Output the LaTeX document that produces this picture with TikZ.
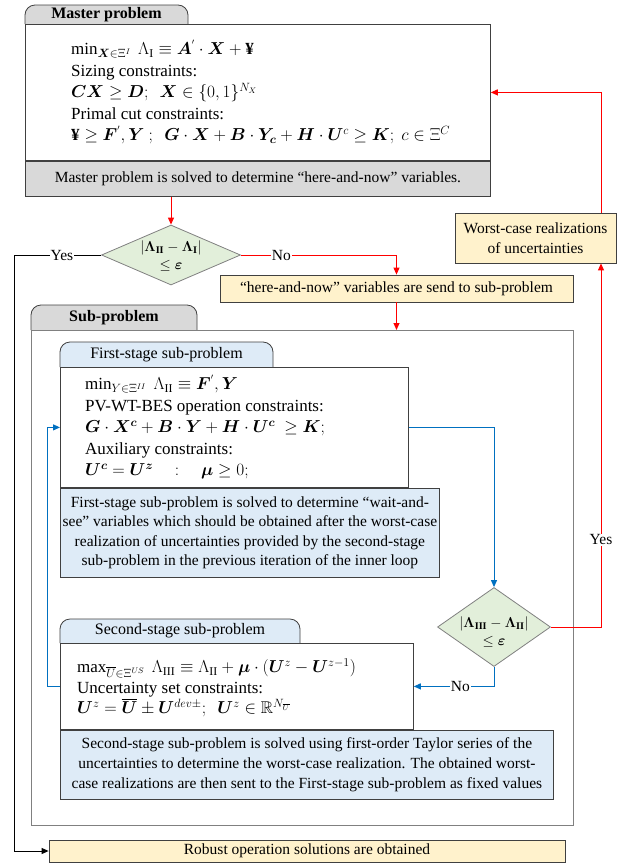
\documentclass[tikz,border=0pt]{standalone}
\usepackage{amsmath,amssymb,bm}
\usepackage{fontspec}
\setmainfont{Liberation Serif}
\usetikzlibrary{arrows.meta, positioning, shapes.geometric}
\definecolor{grisclair}{HTML}{D9D9D9}
\definecolor{bord}{HTML}{404040}
\definecolor{gris}{HTML}{808080}
\definecolor{vertpale}{HTML}{E2EFDA}
\definecolor{jaune}{HTML}{FFF2CC}
\definecolor{bleupale}{HTML}{DEEBF7}
\definecolor{bleu}{HTML}{0070C0}
\definecolor{rouge}{HTML}{FF0000}

\begin{document}
\begin{tikzpicture}[x=1pt, y=-1pt,
    font=\fontsize{15.5}{18}\selectfont,
    boite/.style={draw=bord, fill=white, line width=0.8pt, inner sep=0pt},
    bande/.style={draw=bord, line width=0.8pt, inner sep=0pt, align=center},
    onglet/.style={draw=bord, line width=0.8pt, rounded corners=10pt},
    titre/.style={font=\fontsize{16}{18}\selectfont},
    losange/.style={diamond, draw=gris, fill=vertpale, line width=0.8pt, inner sep=0pt},
    formules/.style={anchor=west, align=left, inner sep=0pt, font=\fontsize{17}{21.5}\selectfont},
    note/.style={font=\fontsize{15.5}{19.6}\selectfont},
    etiq/.style={fill=white, text=black, inner sep=1pt},
    fleche/.style={line width=1pt, -{Triangle[length=7pt,width=6pt]}}]
    \useasboundingbox (0,0) rectangle (618,865);

    % master problem
    \filldraw[onglet, fill=grisclair] (25,24) -- (25,5) -- (188,5) -- (188,24);
    \node[titre, font=\fontsize{16}{18}\selectfont\bfseries] (mastertab) at (106.5,14.5) {Master problem};
    \node[boite, anchor=north west, minimum width=465, minimum height=136] (master) at (25,24) {};
    \node[bande, fill=grisclair, anchor=north west, minimum width=465, minimum height=35, font=\fontsize{15.5}{18}\selectfont] (mastersolve) at (master.south west)
      {Master problem is solved to determine “here-and-now” variables.};
    \node[formules] (mastertxt) at (71,92) {%
      $\min_{\bm{X}\in\Xi^{I}}\ \Lambda_{\mathrm{I}}\equiv\bm{A}^{'}\cdot\bm{X}+\text{\textbf{¥}}$\\
      Sizing constraints:\\
      $\bm{CX}\ge\bm{D};\ \ \bm{X}\in\{0,1\}^{N_X}$\\
      Primal cut constraints:\\
      $\text{\textbf{¥}}\ge\bm{F}^{'},\bm{Y}\ ;\ \ \bm{G}\cdot\bm{X}+\bm{B}\cdot\bm{Y_c}+\bm{H}\cdot\bm{U}^{c}\ge\bm{K};\ c\in\Xi^{C}$};

    % first test
    \node[losange, minimum width=139, minimum height=60] (test1) at (171,255) {};
    \node[align=center, font=\fontsize{14.5}{18}\selectfont] (test1txt) at (171,256) {$|\bm{\Lambda}_{\mathbf{II}}-\bm{\Lambda}_{\mathbf{I}}|$\\$\le\bm{\varepsilon}$};
    \node[bande, fill=jaune, minimum width=353, minimum height=27] (sendsub) at (396.5,288.5)
      {“here-and-now” variables are send to sub-problem};
    \node[bande, fill=jaune, minimum width=161, minimum height=50, font=\fontsize{15.5}{20}\selectfont] (worstcase) at (535.5,238)
      {Worst-case realizations\\of uncertainties};

    % sub-problem
    \filldraw[onglet, fill=grisclair] (31,330) -- (31,305) -- (197,305) -- (197,330);
    \node[font=\fontsize{16}{18}\selectfont\bfseries] (subtab) at (114,318) {Sub-problem};
    \node[boite, draw=gris, anchor=north west, minimum width=542, minimum height=495] (subbox) at (31,330) {};

    % first stage
    \filldraw[onglet, fill=bleupale] (60,367) -- (60,342) -- (273,342) -- (273,367);
    \node[titre] (firsttab) at (166.5,355) {First-stage sub-problem};
    \node[boite, anchor=north west, minimum width=348, minimum height=120] (first) at (60,367) {};
    \node[formules] (firsttxt) at (85,427) {%
      $\min_{Y\in\Xi^{II}}\ \Lambda_{\mathrm{II}}\equiv\bm{F}^{'},\bm{Y}$\\
      PV-WT-BES operation constraints:\\
      $\bm{G}\cdot\bm{X^c}+\bm{B}\cdot\bm{Y}+\bm{H}\cdot\bm{U^c}\ \ge\bm{K};$\\
      Auxiliary constraints:\\
      $\bm{U^c}=\bm{U^z}\quad:\quad\bm{\mu}\ge0;$};
    \node[bande, note, fill=bleupale, anchor=north west, minimum width=379, minimum height=89] (firstnote) at (first.south west)
      {First-stage sub-problem is solved to determine “wait-and-\\see” variables which should be obtained after the worst-case\\realization of uncertainties provided by the second-stage\\sub-problem in the previous iteration of the inner loop};

    % second test
    \node[losange, minimum width=113, minimum height=79] (test2) at (494,627) {};
    \node[align=center, font=\fontsize{14.5}{18}\selectfont] (test2txt) at (494,632) {$|\bm{\Lambda}_{\mathbf{III}}-\bm{\Lambda}_{\mathbf{II}}|$\\$\le\bm{\varepsilon}$};

    % second stage
    \filldraw[onglet, fill=bleupale] (60,643) -- (60,619) -- (300,619) -- (300,643);
    \node[titre] (secondtab) at (180,631) {Second-stage sub-problem};
    \node[boite, anchor=north west, minimum width=353, minimum height=86] (second) at (60,643) {};
    \node[formules, font=\fontsize{17}{20.5}\selectfont] (secondtxt) at (77,688) {%
      $\max_{\overline{U}\in\Xi^{US}}\ \Lambda_{\mathrm{III}}\equiv\Lambda_{\mathrm{II}}+\bm{\mu}\cdot(\bm{U}^{z}-\bm{U}^{z-1})$\\
      Uncertainty set constraints:\\
      $\bm{U}^{z}=\bm{\overline{U}}\pm\bm{U}^{dev\pm};\ \ \bm{U}^{z}\in\mathbb{R}^{N_{\overline{U}}}$};
    \node[bande, note, fill=bleupale, anchor=north west, minimum width=493, minimum height=69] (secondnote) at (second.south west)
      {Second-stage sub-problem is solved using first-order Taylor series of the\\uncertainties to determine the worst-case realization. The obtained worst-\\case realizations are then sent to the First-stage sub-problem as fixed values};

    % result
    \node[bande, fill=jaune, minimum width=516, minimum height=22] (robust) at (307,851) {Robust operation solutions are obtained};

    % connectors
    \draw[fleche, rouge] (test1.north |- mastersolve.south) -- (test1.north);
    \draw[fleche, rouge] (test1.east) -| node[etiq, pos=0.13] {No} (sendsub.north);
    \draw[fleche, rouge] (sendsub.south) -- (sendsub.south |- subbox.north);
    \draw[fleche, black] (test1.west) -- node[etiq, pos=0.45] {Yes} ++(-87,0) |- (robust.west);
    \draw[fleche, bleu] (first.east) -| (test2.north);
    \draw[fleche, bleu] (test2.south) |- node[etiq, pos=0.71] {No} (second.east);
    \draw[fleche, bleu] (second.west) -- ++(-13,0) |- (first.west);
    \draw[fleche, rouge] (test2.east) -| node[etiq, pos=0.62] {Yes} ([xshift=65.5pt]worstcase.south);
    \draw[fleche, rouge] ([xshift=65.5pt]worstcase.north) |- (master.east);
\end{tikzpicture}
\end{document}
